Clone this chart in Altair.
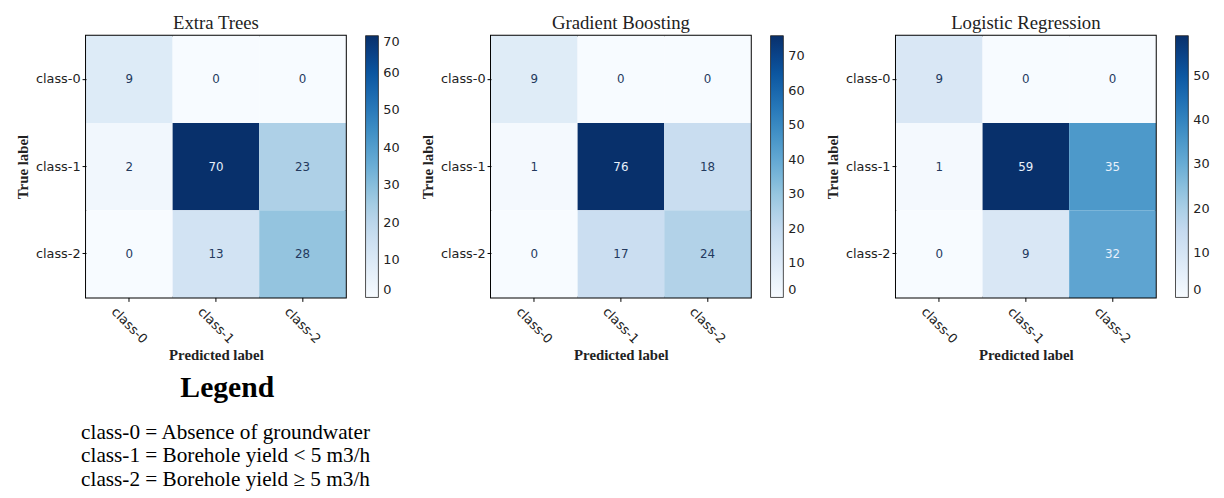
import altair as alt
import pandas as pd

classes = ["class-0", "class-1", "class-2"]
models = ["Extra Trees", "Gradient Boosting", "Logistic Regression"]

extra_trees = [[9, 0, 0], [2, 70, 23], [0, 13, 28]]
gradient_boosting = [[9, 0, 0], [1, 76, 18], [0, 17, 24]]
logistic_regression = [[9, 0, 0], [1, 59, 35], [0, 9, 32]]
matrices = [extra_trees, gradient_boosting, logistic_regression]

cbar_ticks = [
    [0, 10, 20, 30, 40, 50, 60, 70],
    [0, 10, 20, 30, 40, 50, 60, 70],
    [0, 10, 20, 30, 40, 50],
]

legend_title = "Legend"
legend_lines = [
    "class-0 = Absence of groundwater",
    "class-1 = Borehole yield < 5 m3/h",
    "class-2 = Borehole yield \u2265 5 m3/h",
]

blues = ["#f7fbff", "#deebf7", "#c6dbef", "#9ecae1", "#6baed6",
         "#4292c6", "#2171b5", "#08519c", "#08306b"]

SERIF = "Liberation Serif"
SANS = "DejaVu Sans"


def panel(name, mat, ticks):
    rows = []
    for i, t in enumerate(classes):
        for j, p in enumerate(classes):
            rows.append({"true": t, "pred": p, "count": mat[i][j]})
    df = pd.DataFrame(rows)
    vmin = min(min(r) for r in mat)
    vmax = max(max(r) for r in mat)
    dom = [vmin + (vmax - vmin) * k / 8 for k in range(9)]

    base = alt.Chart(df).encode(
        x=alt.X("pred:N", sort=classes, title="Predicted label",
                axis=alt.Axis(labelAngle=45, labelAlign="center", labelBaseline="middle",
                              labelPadding=24, labelFont=SANS, labelFontSize=13,
                              labelColor="#222", tickSize=4, tickColor="black",
                              domain=False, titleFont=SERIF, titleFontSize=15,
                              titleFontWeight="bold", titlePadding=2, titleColor="#222")),
        y=alt.Y("true:N", sort=classes, title="True label",
                axis=alt.Axis(labelFont=SANS, labelFontSize=13, labelColor="#222",
                              labelPadding=2, tickSize=4, tickColor="black", domain=False,
                              titleFont=SERIF, titleFontSize=15, titleFontWeight="bold",
                              titlePadding=5, titleColor="#222")),
    )
    rect = base.mark_rect().encode(
        color=alt.Color("count:Q",
                        scale=alt.Scale(type="linear", domain=dom, range=blues),
                        title=None,
                        legend=alt.Legend(values=ticks, gradientLength=265,
                                          gradientThickness=13, gradientStrokeColor="#222",
                                          gradientStrokeWidth=0.8, labelFont=SANS,
                                          labelFontSize=13, labelColor="#222",
                                          offset=20, direction="vertical", labelOffset=5))
    )
    text = base.mark_text(font=SANS, fontSize=12).encode(
        text="count:Q",
        color=alt.condition(alt.datum["count"] > vmax / 2,
                            alt.value("#e8f1fb"), alt.value("#23395d")),
    )
    return (rect + text).properties(
        width=263, height=265,
        title=alt.TitleParams(name, font=SERIF, fontSize=19, fontWeight="normal",
                              color="#222", offset=3),
    )


panels = [panel(n, m, t) for n, m, t in zip(models, matrices, cbar_ticks)]
top = alt.hconcat(*panels, spacing=18).resolve_scale(color="independent")

leg_df = pd.DataFrame({"line": legend_lines, "idx": [0, 1, 2]})
legend_chart = alt.Chart(leg_df, view=alt.ViewBackground(strokeWidth=0)).mark_text(
    font=SERIF, fontSize=21.5, align="left", baseline="middle", color="black"
).encode(
    x=alt.value(-5),
    y=alt.Y("idx:O", axis=None, scale=alt.Scale(paddingInner=0, paddingOuter=0)),
    text="line:N",
).properties(
    width=286, height=72,
    title=alt.TitleParams(legend_title, font=SERIF, fontSize=30, fontWeight="bold",
                          color="black", anchor="middle", offset=18),
)

chart = alt.vconcat(top, legend_chart, spacing=10).properties(
    padding={"left": 6, "top": 2, "right": 5, "bottom": 2}
).configure(background="white").configure_view(stroke="black", strokeWidth=2)

chart.save("out.html", embed_options={"renderer": "svg", "actions": False})
